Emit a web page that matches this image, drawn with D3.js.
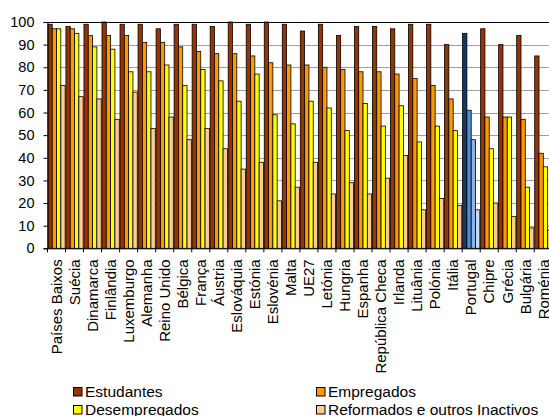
<!DOCTYPE html>
<html><head><meta charset="utf-8">
<script src="https://cdn.jsdelivr.net/npm/d3@7"></script>
<style>
html,body{margin:0;padding:0;background:#fff;}
svg{display:block;font-family:Arial,"Liberation Sans",sans-serif;}
</style></head>
<body>
<svg id="chart" width="549" height="416"></svg>
<script>
const categories = ["Países Baixos","Suécia","Dinamarca","Finlândia","Luxemburgo","Alemanha","Reino Unido","Bélgica","França","Áustria","Eslováquia","Estónia","Eslovénia","Malta","UE27","Letónia","Hungria","Espanha","República Checa","Irlanda","Lituânia","Polónia","Itália","Portugal","Chipre","Grécia","Bulgária","Roménia"];
const seriesNames = ["Estudantes","Empregados","Desempregados","Reformados e outros Inactivos"];
const estudantes    = [99,98,99,100,99,99,97,99,99,98,100,99,100,99,96,99,94,98,98,97,99,99,90,95,97,90,94,85];
const empregados    = [97,97,94,94,94,91,91,89,87,86,86,85,82,81,81,80,79,78,78,77,75,72,66,61,58,58,57,42];
const desempregados = [97,95,89,88,78,78,81,72,79,74,65,77,59,55,65,62,52,64,54,63,47,54,52,48,44,58,27,36];
const reformados    = [72,67,66,57,69,53,58,48,53,44,35,38,21,27,38,24,29,24,31,41,17,22,19,17,20,14,9,8];
const yTicks = [0,10,20,30,40,50,60,70,80,90,100];
const seriesColors = ["#993300","#FF9900","#FFFF00","#FFCC99"];
const highlightCategory = "Portugal";
const highlightColors = ["#17375E","#558ED5","#8DB4E2","#C6D9F1"];

(function(){
const values = [estudantes, empregados, desempregados, reformados];
const svg = d3.select("#chart");
const pLeft = 47.5, pTop = 22, pBottom = 248.3, catW = 18.03;
const pRight = pLeft + categories.length * catW;

const x = d3.scaleBand().domain(categories).range([pLeft, pRight]).paddingInner(0).paddingOuter(0);
const xs = d3.scaleBand().domain(seriesNames).range([0.4, catW - 0.4]).padding(0);
const y = d3.scaleLinear().domain([0,100]).range([pBottom, pTop]);

// gridlines
svg.append("g").selectAll("line").data(yTicks.filter(t => t > 0 && t < 100)).join("line")
  .attr("x1", pLeft).attr("x2", pRight)
  .attr("y1", d => Math.round(y(d)) + 0.5).attr("y2", d => Math.round(y(d)) + 0.5)
  .attr("stroke", "#a0a0a0").attr("stroke-width", 1);

// bars
const g = svg.append("g");
categories.forEach((c, i) => {
  seriesNames.forEach((s, j) => {
    const v = values[j][i];
    const col = c === highlightCategory ? highlightColors[j] : seriesColors[j];
    g.append("rect")
      .attr("x", x(c) + xs(s)).attr("y", y(v))
      .attr("width", xs.bandwidth()).attr("height", y(0) - y(v))
      .attr("fill", col).attr("stroke", "#000").attr("stroke-width", 0.8);
  });
});

// plot border (top)
svg.append("line").attr("x1", pLeft).attr("x2", pRight)
  .attr("y1", Math.round(pTop) + 0.5).attr("y2", Math.round(pTop) + 0.5)
  .attr("stroke", "#000").attr("stroke-width", 1);

// y axis
const yAxis = d3.axisLeft(y).tickValues(yTicks).tickSize(4).tickPadding(9).tickFormat(d3.format("d"));
const ya = svg.append("g").attr("transform", `translate(${pLeft},0)`).call(yAxis);
ya.select(".domain").attr("stroke", "#000");
ya.selectAll(".tick line").attr("stroke", "#000");
ya.selectAll("text").attr("font-size", "14.5px").attr("fill", "#000")
  .attr("font-family", 'Arial,"Liberation Sans",sans-serif');

// x axis
const xAxis = d3.axisBottom(x).tickSize(0).tickPadding(0);
const xa = svg.append("g").attr("transform", `translate(0,${pBottom})`).call(xAxis);
xa.select(".domain").attr("stroke", "#000");
xa.selectAll("text")
  .attr("font-size", "15px").attr("fill", "#000")
  .attr("font-family", 'Arial,"Liberation Sans",sans-serif')
  .attr("text-anchor", "end")
  .attr("transform", "translate(0,11) rotate(-90)")
  .attr("x", 0).attr("y", 0).attr("dy", "0.35em");
// boundary ticks
svg.append("g").selectAll("line").data(d3.range(categories.length + 1)).join("line")
  .attr("x1", i => pLeft + i * catW).attr("x2", i => pLeft + i * catW)
  .attr("y1", pBottom).attr("y2", pBottom + 4)
  .attr("stroke", "#000");

// legend
const legendPos = [[73,387],[316,387],[73,405],[316,405]];
const lg = svg.append("g");
seriesNames.forEach((s, j) => {
  const [lx, ly] = legendPos[j];
  lg.append("rect").attr("x", lx + 0.5).attr("y", ly + 0.5).attr("width", 8.5).attr("height", 8.5)
    .attr("fill", seriesColors[j]).attr("stroke", "#000").attr("stroke-width", 1);
  lg.append("text").attr("x", lx + 12).attr("y", ly + 9.5)
    .attr("font-size", "15.5px").attr("fill", "#000").text(s);
});
})();
</script>
</body></html>
